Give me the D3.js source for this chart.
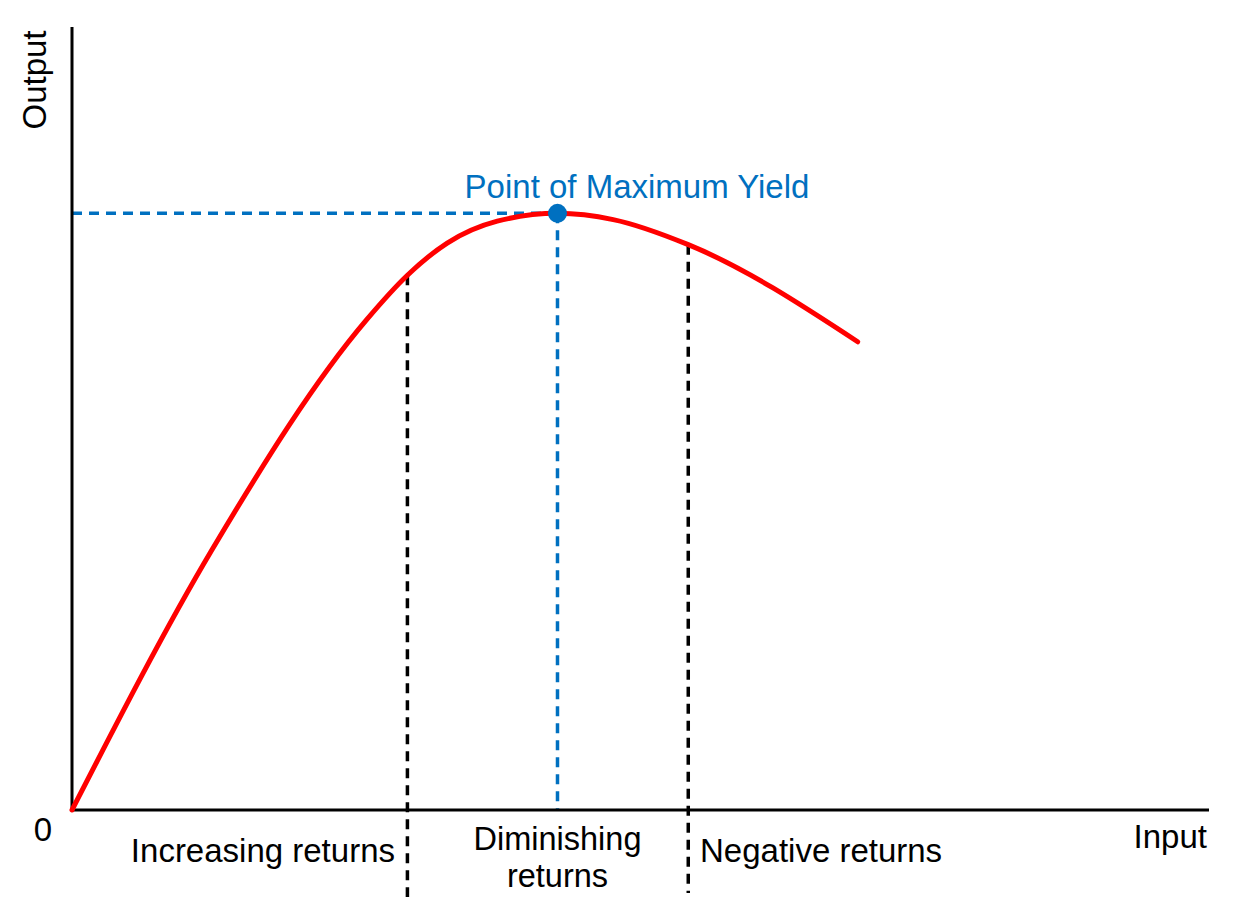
<!DOCTYPE html>
<html><head><meta charset="utf-8">
<script src="https://cdn.jsdelivr.net/npm/d3@7"></script>
<style>body{margin:0;background:#fff}svg{display:block}</style>
</head><body>
<svg id="c" width="1255" height="900"></svg>
<script>
// Data (input units 0-100, output units 0-100)
const curveInput  = [0, 12.3, 25.9, 29.5, 33.0, 37.4, 42.7, 47.6, 54.2, 69.1];
const curveOutput = [0, 33.2, 62.6, 68.3, 72.4, 75.2, 76.2, 75.4, 72.2, 59.8];
const maxPoint = {input: 42.7, output: 76.2};
const stageBoundaries = [29.5, 54.2];
const stageLabels = [["Increasing returns"], ["Diminishing", "returns"], ["Negative returns"]];
const axisLabels = {x: "Input", y: "Output", origin: "0"};
const maxLabel = "Point of Maximum Yield";

const svg = d3.select("#c");
const x = d3.scaleLinear().domain([0, 100]).range([72, 1209]);
const y = d3.scaleLinear().domain([0, 100]).range([810, 27]);
const font = "'Liberation Sans', Arial, sans-serif";
const blue = "#0070c0";
const fs = 33;

const pts = curveInput.map((d, i) => [d, curveOutput[i]]);
const interp = d3.line().x(d => x(d[0])).y(d => y(d[1])).curve(d3.curveMonotoneX);

const path = svg.append("path").attr("d", interp(pts)).attr("fill", "none")
  .attr("stroke", "red").attr("stroke-width", 5).attr("stroke-linecap", "round");
function yAt(px) {
  const node = path.node(), L = node.getTotalLength();
  let lo = 0, hi = L;
  for (let k = 0; k < 40; k++) { const m = (lo + hi) / 2; if (node.getPointAtLength(m).x < px) lo = m; else hi = m; }
  return node.getPointAtLength(lo).y;
}

// stage boundary dashed lines
const bottoms = [897, 893];
stageBoundaries.forEach((b, i) => {
  svg.append("line").attr("x1", x(b)).attr("x2", x(b))
    .attr("y1", yAt(x(b))).attr("y2", bottoms[i])
    .attr("stroke", "#000").attr("stroke-width", 3.5).attr("stroke-dasharray", "10,7");
});

// max yield dashed lines
svg.append("line").attr("x1", x(0)).attr("x2", x(maxPoint.input))
  .attr("y1", y(maxPoint.output)).attr("y2", y(maxPoint.output))
  .attr("stroke", blue).attr("stroke-width", 3.5).attr("stroke-dasharray", "10,7");
svg.append("line").attr("x1", x(maxPoint.input)).attr("x2", x(maxPoint.input))
  .attr("y1", y(maxPoint.output)).attr("y2", y(0))
  .attr("stroke", blue).attr("stroke-width", 3.5).attr("stroke-dasharray", "10,7");

// axes
svg.append("line").attr("x1", x(0)).attr("x2", x(100)).attr("y1", y(0)).attr("y2", y(0))
  .attr("stroke", "#000").attr("stroke-width", 3);
svg.append("line").attr("x1", x(0)).attr("x2", x(0)).attr("y1", y(0) + 1.5).attr("y2", y(100))
  .attr("stroke", "#000").attr("stroke-width", 3);

path.raise();

svg.append("circle").attr("cx", x(maxPoint.input)).attr("cy", y(maxPoint.output)).attr("r", 9.5).attr("fill", blue);

const txt = (t, px, py, anchor, color, size) => svg.append("text").attr("x", px).attr("y", py)
  .attr("text-anchor", anchor).attr("font-family", font).attr("font-size", size || fs)
  .attr("fill", color || "#000").text(t);

txt(maxLabel, 637, 198, "middle", blue);
txt(axisLabels.x, 1207, 848, "end");
txt(axisLabels.origin, 43, 841, "middle");
svg.append("text").attr("transform", "translate(46,80) rotate(-90)").attr("text-anchor", "middle")
  .attr("font-family", font).attr("font-size", fs).text(axisLabels.y);

txt(stageLabels[0][0], 395, 862, "end");
txt(stageLabels[1][0], x(maxPoint.input), 850, "middle", null, 32.5);
txt(stageLabels[1][1], x(maxPoint.input), 887, "middle", null, 32.5);
txt(stageLabels[2][0], 700, 862, "start");
</script>
</body></html>
